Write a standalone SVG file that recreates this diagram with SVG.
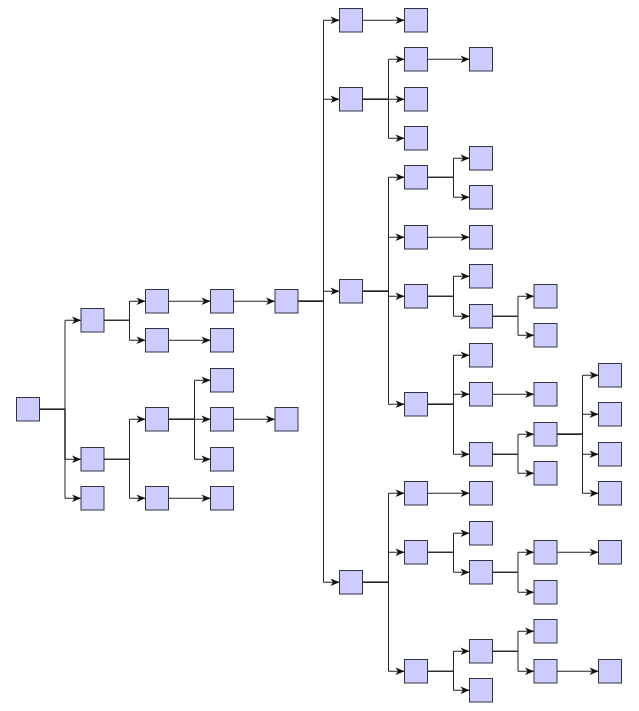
<svg xmlns="http://www.w3.org/2000/svg" width="639" height="711" viewBox="0 0 639 711">
<style>
.n rect{fill:#ccccff;stroke:#333344;stroke-width:1}
.e path{fill:none;stroke:#222;stroke-width:1;marker-end:url(#arr)}
</style>
<defs>
<marker id="arr" markerUnits="userSpaceOnUse" viewBox="-10 -5 11 10" markerWidth="11" markerHeight="10" refX="0" refY="0" orient="auto" overflow="visible">
<path d="M-9,-3.7 L0,0 L-9,3.7 L-6.5,0 Z" fill="#111" stroke="none"/>
</marker>
</defs>
<rect width="639" height="711" fill="#ffffff"/>
<g id="connectors" class="e">
<path d="M39.5,409.25 H65 V320.25 H81"/>
<path d="M39.5,409.25 H65 V459.25 H81"/>
<path d="M39.5,409.25 H65 V498.25 H81"/>
<path d="M104,320.25 H129.5 V301.25 H145.5"/>
<path d="M104,320.25 H129.5 V340.25 H145.5"/>
<path d="M104,459.25 H129.5 V419.25 H145.5"/>
<path d="M104,459.25 H129.5 V498.25 H145.5"/>
<path d="M168.5,301.25 H210.5"/>
<path d="M168.5,340.25 H210.5"/>
<path d="M168.5,419.25 H194.5 V380.25 H210.5"/>
<path d="M168.5,419.25 H194.5 V419.25 H210.5"/>
<path d="M168.5,419.25 H194.5 V459.25 H210.5"/>
<path d="M168.5,498.25 H210.5"/>
<path d="M233.5,301.25 H275"/>
<path d="M233.5,419.25 H275"/>
<path d="M298,301.25 H323.5 V20.25 H339.5"/>
<path d="M298,301.25 H323.5 V99.25 H339.5"/>
<path d="M298,301.25 H323.5 V291.25 H339.5"/>
<path d="M298,301.25 H323.5 V582.25 H339.5"/>
<path d="M362.5,20.25 H404.5"/>
<path d="M362.5,99.25 H388.5 V59.25 H404.5"/>
<path d="M362.5,99.25 H388.5 V99.25 H404.5"/>
<path d="M362.5,99.25 H388.5 V138.25 H404.5"/>
<path d="M362.5,291.25 H388.5 V177.25 H404.5"/>
<path d="M362.5,291.25 H388.5 V237.25 H404.5"/>
<path d="M362.5,291.25 H388.5 V296.25 H404.5"/>
<path d="M362.5,291.25 H388.5 V404.25 H404.5"/>
<path d="M362.5,582.25 H388.5 V493.25 H404.5"/>
<path d="M362.5,582.25 H388.5 V552.25 H404.5"/>
<path d="M362.5,582.25 H388.5 V671.25 H404.5"/>
<path d="M427.5,59.25 H469.5"/>
<path d="M427.5,177.25 H453.5 V158.25 H469.5"/>
<path d="M427.5,177.25 H453.5 V197.25 H469.5"/>
<path d="M427.5,237.25 H469.5"/>
<path d="M427.5,296.25 H453.5 V276.25 H469.5"/>
<path d="M427.5,296.25 H453.5 V316.25 H469.5"/>
<path d="M427.5,404.25 H453.5 V355.25 H469.5"/>
<path d="M427.5,404.25 H453.5 V394.25 H469.5"/>
<path d="M427.5,404.25 H453.5 V454.25 H469.5"/>
<path d="M427.5,493.25 H469.5"/>
<path d="M427.5,552.25 H453.5 V533.25 H469.5"/>
<path d="M427.5,552.25 H453.5 V572.25 H469.5"/>
<path d="M427.5,671.25 H453.5 V651.25 H469.5"/>
<path d="M427.5,671.25 H453.5 V690.25 H469.5"/>
<path d="M492.5,316.25 H518 V296.25 H534"/>
<path d="M492.5,316.25 H518 V335.25 H534"/>
<path d="M492.5,394.25 H534"/>
<path d="M492.5,454.25 H518 V434.25 H534"/>
<path d="M492.5,454.25 H518 V473.25 H534"/>
<path d="M492.5,572.25 H518 V552.25 H534"/>
<path d="M492.5,572.25 H518 V592.25 H534"/>
<path d="M492.5,651.25 H518 V631.25 H534"/>
<path d="M492.5,651.25 H518 V671.25 H534"/>
<path d="M557,434.25 H582.5 V375.25 H598.5"/>
<path d="M557,434.25 H582.5 V414.25 H598.5"/>
<path d="M557,434.25 H582.5 V454.25 H598.5"/>
<path d="M557,434.25 H582.5 V493.25 H598.5"/>
<path d="M557,552.25 H598.5"/>
<path d="M557,671.25 H598.5"/>
</g>
<g class="n">
<g id="n0"><rect x="16.5" y="397.5" width="23" height="23.5"/></g>
<g id="n1"><rect x="81" y="308.5" width="23" height="23.5"/></g>
<g id="n2"><rect x="81" y="447.5" width="23" height="23.5"/></g>
<g id="n3"><rect x="81" y="486.5" width="23" height="23.5"/></g>
<g id="n4"><rect x="145.5" y="289.5" width="23" height="23.5"/></g>
<g id="n5"><rect x="145.5" y="328.5" width="23" height="23.5"/></g>
<g id="n6"><rect x="145.5" y="407.5" width="23" height="23.5"/></g>
<g id="n7"><rect x="145.5" y="486.5" width="23" height="23.5"/></g>
<g id="n8"><rect x="210.5" y="289.5" width="23" height="23.5"/></g>
<g id="n9"><rect x="210.5" y="328.5" width="23" height="23.5"/></g>
<g id="n10"><rect x="210.5" y="368.5" width="23" height="23.5"/></g>
<g id="n11"><rect x="210.5" y="407.5" width="23" height="23.5"/></g>
<g id="n12"><rect x="210.5" y="447.5" width="23" height="23.5"/></g>
<g id="n13"><rect x="210.5" y="486.5" width="23" height="23.5"/></g>
<g id="n14"><rect x="275" y="289.5" width="23" height="23.5"/></g>
<g id="n15"><rect x="275" y="407.5" width="23" height="23.5"/></g>
<g id="n16"><rect x="339.5" y="8.5" width="23" height="23.5"/></g>
<g id="n17"><rect x="339.5" y="87.5" width="23" height="23.5"/></g>
<g id="n18"><rect x="339.5" y="279.5" width="23" height="23.5"/></g>
<g id="n19"><rect x="339.5" y="570.5" width="23" height="23.5"/></g>
<g id="n20"><rect x="404.5" y="8.5" width="23" height="23.5"/></g>
<g id="n21"><rect x="404.5" y="47.5" width="23" height="23.5"/></g>
<g id="n22"><rect x="404.5" y="87.5" width="23" height="23.5"/></g>
<g id="n23"><rect x="404.5" y="126.5" width="23" height="23.5"/></g>
<g id="n24"><rect x="404.5" y="165.5" width="23" height="23.5"/></g>
<g id="n25"><rect x="404.5" y="225.5" width="23" height="23.5"/></g>
<g id="n26"><rect x="404.5" y="284.5" width="23" height="23.5"/></g>
<g id="n27"><rect x="404.5" y="392.5" width="23" height="23.5"/></g>
<g id="n28"><rect x="404.5" y="481.5" width="23" height="23.5"/></g>
<g id="n29"><rect x="404.5" y="540.5" width="23" height="23.5"/></g>
<g id="n30"><rect x="404.5" y="659.5" width="23" height="23.5"/></g>
<g id="n31"><rect x="469.5" y="47.5" width="23" height="23.5"/></g>
<g id="n32"><rect x="469.5" y="146.5" width="23" height="23.5"/></g>
<g id="n33"><rect x="469.5" y="185.5" width="23" height="23.5"/></g>
<g id="n34"><rect x="469.5" y="225.5" width="23" height="23.5"/></g>
<g id="n35"><rect x="469.5" y="264.5" width="23" height="23.5"/></g>
<g id="n36"><rect x="469.5" y="304.5" width="23" height="23.5"/></g>
<g id="n37"><rect x="469.5" y="343.5" width="23" height="23.5"/></g>
<g id="n38"><rect x="469.5" y="382.5" width="23" height="23.5"/></g>
<g id="n39"><rect x="469.5" y="442.5" width="23" height="23.5"/></g>
<g id="n40"><rect x="469.5" y="481.5" width="23" height="23.5"/></g>
<g id="n41"><rect x="469.5" y="521.5" width="23" height="23.5"/></g>
<g id="n42"><rect x="469.5" y="560.5" width="23" height="23.5"/></g>
<g id="n43"><rect x="469.5" y="639.5" width="23" height="23.5"/></g>
<g id="n44"><rect x="469.5" y="678.5" width="23" height="23.5"/></g>
<g id="n45"><rect x="534" y="284.5" width="23" height="23.5"/></g>
<g id="n46"><rect x="534" y="323.5" width="23" height="23.5"/></g>
<g id="n47"><rect x="534" y="382.5" width="23" height="23.5"/></g>
<g id="n48"><rect x="534" y="422.5" width="23" height="23.5"/></g>
<g id="n49"><rect x="534" y="461.5" width="23" height="23.5"/></g>
<g id="n50"><rect x="534" y="540.5" width="23" height="23.5"/></g>
<g id="n51"><rect x="534" y="580.5" width="23" height="23.5"/></g>
<g id="n52"><rect x="534" y="619.5" width="23" height="23.5"/></g>
<g id="n53"><rect x="534" y="659.5" width="23" height="23.5"/></g>
<g id="n54"><rect x="598.5" y="363.5" width="23" height="23.5"/></g>
<g id="n55"><rect x="598.5" y="402.5" width="23" height="23.5"/></g>
<g id="n56"><rect x="598.5" y="442.5" width="23" height="23.5"/></g>
<g id="n57"><rect x="598.5" y="481.5" width="23" height="23.5"/></g>
<g id="n58"><rect x="598.5" y="540.5" width="23" height="23.5"/></g>
<g id="n59"><rect x="598.5" y="659.5" width="23" height="23.5"/></g>
</g>
</svg>
